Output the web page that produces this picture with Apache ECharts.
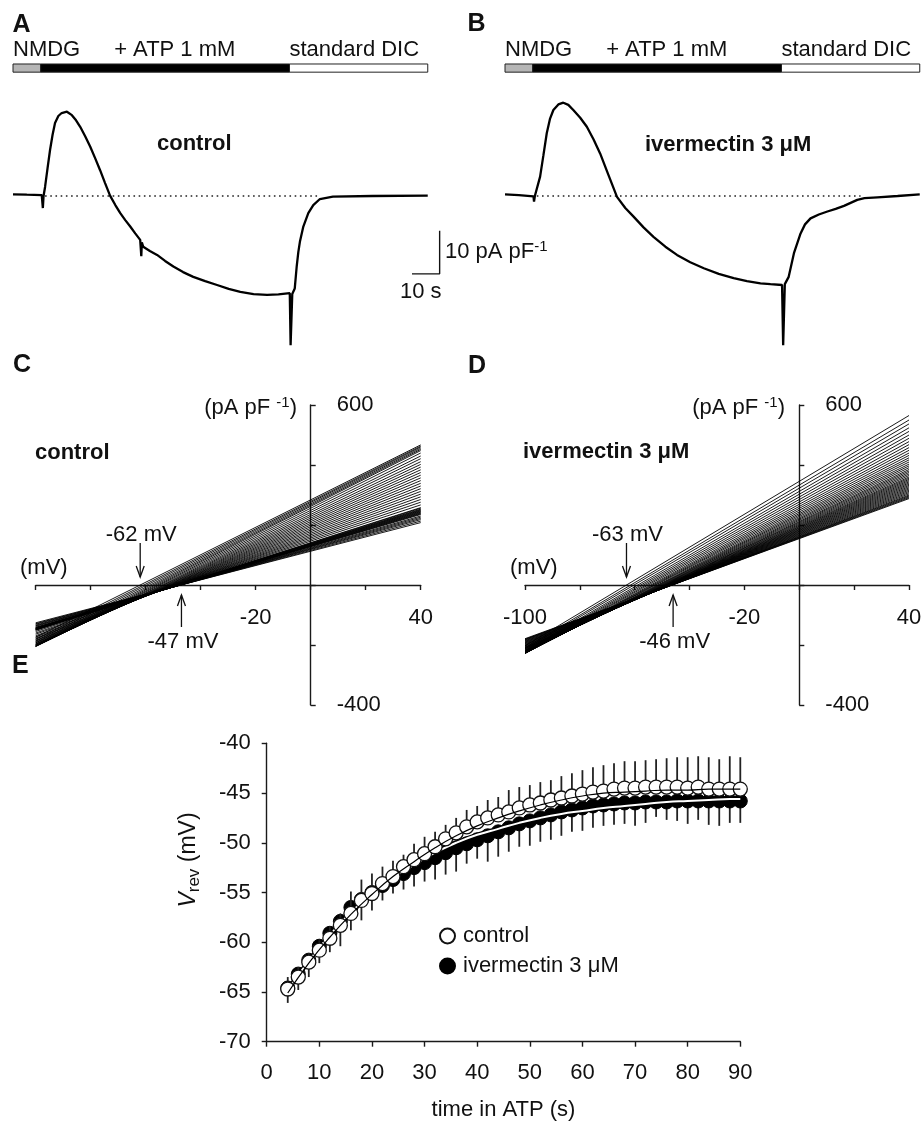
<!DOCTYPE html>
<html><head><meta charset="utf-8">
<script src="https://cdn.jsdelivr.net/npm/echarts@6/dist/echarts.min.js"></script>
<style>html,body{margin:0;padding:0;background:#fff}#c{width:924px;height:1121px}</style>
</head><body><div id="c"></div>
<script>
const FONT = '"Liberation Sans", Arial, Helvetica, sans-serif';

// ---------- Panels A / B : current density (pA/pF) vs time (s) ----------
const traceA = [[0,0.4],[5,0.3],[10.4,0.2],[10.8,-2.8],[11.05,0],[11.6,2.1],[12.5,6.5],[13.4,10.7],[14.3,14.2],[15.2,17.0],[16.4,18.6],[17.6,19.3],[19.5,19.6],[21.3,18.8],[22.8,17.6],[24.3,16.1],[26.1,13.9],[27.9,11.5],[29.7,8.8],[31.5,6.0],[33.3,3.0],[35.1,0.1],[37.0,-2.1],[38.8,-4.0],[40.6,-5.6],[42.4,-7.1],[44.2,-8.7],[46.0,-10.2],[46.3,-10.4],[46.4,-14.0],[46.6,-10.8],[47.1,-11.8],[49.5,-12.8],[52.1,-13.7],[55,-15.1],[58.0,-16.4],[61.5,-17.7],[65.2,-18.8],[69.5,-19.8],[73.8,-20.7],[78,-21.6],[82.2,-22.3],[87,-22.8],[91.9,-23.0],[96,-22.9],[100.1,-22.6],[100.4,-34.7],[100.7,-34.7],[101.0,-22.8],[101.9,-21.5],[102.6,-16.4],[103.2,-13.0],[103.8,-10.5],[105,-7.1],[106.8,-4.0],[108.6,-2.1],[111,-0.7],[115.7,-0.15],[130,0],[150,0.1]];
const traceB = [[0,0.4],[5,0.2],[10.3,-0.1],[10.5,-1.3],[10.8,0],[12.7,4.5],[13.9,9.5],[15.1,14.6],[16.3,18.0],[17.5,20.0],[19.3,21.3],[21.1,21.7],[22.9,21.2],[24.7,20.0],[27.2,18.2],[29.6,16.1],[32.0,13.2],[34.4,9.9],[37.4,4.9],[40.5,-0.2],[43.5,-2.8],[46.5,-4.8],[50.1,-7.3],[53.7,-9.5],[58,-11.8],[62.2,-13.7],[67,-15.4],[71.9,-16.8],[77.3,-18.1],[82.7,-19.1],[87.5,-19.8],[92.4,-20.3],[96,-20.5],[100.2,-20.7],[100.6,-34.7],[100.9,-34.7],[101.2,-20.5],[102.6,-18.8],[104.5,-13.3],[106.9,-8.7],[108.5,-6.6],[110.5,-5.2],[113.5,-4.3],[116.6,-3.6],[119.6,-3.0],[122.6,-2.3],[125,-1.6],[127.4,-0.9],[130,-0.5],[134.7,-0.3],[142,0],[150,0.4]];
const solutionNames = ['NMDG', '+ ATP 1 mM', 'standard DIC'];
const solutionStart = [0, 10, 100];
const solutionEnd = [10, 100, 150];
const zeroLineA = [[11.6, 0], [111, 0]];
const zeroLineB = [[11.5, 0], [128.6, 0]];
const scaleBar = [[144.3, -18.1], [154.3, -18.1], [154.3, -8.1]]; // 10 s, 10 pA/pF

// ---------- Panels C / D : I-V ramps (pA/pF at -100 mV and +40 mV) ----------
const ivVoltage = [-100, 40];
const ivC_atMinus100 = [-174,-181,-187,-193,-198,-202,-204,-204,-205,-204,-203,-202,-200,-198,-196,-193,-190,-187,-184,-180,-177,-173,-169,-164,-160,-155,-151,-150,-149,-148,-147,-146,-146,-145,-144,-143,-142,-141,-138,-136,-134,-131,-129,-126];
const ivC_atPlus40 = [467,463,460,456,452,448,440,430,421,411,402,393,384,375,366,357,348,339,330,321,312,303,294,285,276,267,258,256,253,251,249,247,245,243,241,239,237,235,230,226,222,218,213,208];
const ivD_atMinus100 = [-203,-209,-213,-218,-221,-223,-225,-226,-228,-228,-228,-227,-228,-227,-226,-225,-224,-223,-222,-221,-219,-218,-217,-215,-213,-212,-211,-209,-208,-206,-204,-202,-200,-198,-196,-194,-192,-190,-188,-186,-184,-182,-181,-179];
const ivD_atPlus40 = [565,550,537,524,512,500,489,478,468,458,449,440,432,424,417,410,403,397,391,385,380,375,370,365,360,356,352,348,344,340,336,332,328,324,320,316,312,308,304,300,297,294,291,288];
const ivXLabelsC = [-20, 40];
const ivXLabelsD = [-100, -20, 40];
const ivYLabels = [600, -400];
const vrevArrowsC = [-62, -47];
const vrevArrowsD = [-63, -46];

// ---------- Panel E : Vrev (mV) vs time in ATP (s) ----------
const timeE = [4,6,8,10,12,14,16,18,20,22,24,26,28,30,32,34,36,38,40,42,44,46,48,50,52,54,56,58,60,62,64,66,68,70,72,74,76,78,80,82,84,86,88,90];
const vrevControl = [-64.7,-63.5,-62.0,-60.8,-59.6,-58.3,-57.1,-55.8,-55.1,-54.1,-53.4,-52.4,-51.7,-51.1,-50.4,-49.6,-49.0,-48.4,-47.9,-47.5,-47.2,-46.9,-46.5,-46.2,-46.0,-45.7,-45.5,-45.3,-45.1,-44.9,-44.8,-44.6,-44.5,-44.5,-44.4,-44.4,-44.4,-44.4,-44.5,-44.4,-44.6,-44.6,-44.6,-44.6];
const semControl = [1.2,1.0,0.9,1.0,1.2,1.2,2.2,2.1,2.0,1.7,1.6,1.2,1.6,1.7,1.5,1.4,1.5,1.7,1.6,1.8,1.8,2.2,2.1,2.0,2.1,2.0,2.2,2.3,2.4,2.5,2.6,2.6,2.7,2.7,2.7,2.8,2.9,3.0,3.1,3.1,3.2,3.0,3.3,3.2];
const vrevIver = [-64.6,-63.2,-61.8,-60.4,-59.1,-57.9,-56.5,-55.7,-55.0,-54.3,-53.7,-53.1,-52.5,-52.0,-51.5,-51.0,-50.5,-50.1,-49.7,-49.3,-48.9,-48.5,-48.1,-47.8,-47.5,-47.2,-46.9,-46.7,-46.5,-46.3,-46.2,-46.1,-46.0,-46.0,-45.9,-45.9,-45.9,-45.8,-45.8,-45.8,-45.8,-45.8,-45.8,-45.8];
const semIver = [1.5,1.6,1.7,1.7,1.9,2.5,2.3,2.1,1.8,1.5,1.4,1.6,1.9,1.9,2.2,2.2,2.4,2.0,1.9,2.6,2.5,2.4,2.3,2.5,2.4,2.5,2.4,2.2,2.3,2.2,2.1,2.1,2.1,2.3,2.1,1.5,1.8,2.0,2.3,1.9,2.4,2.5,2.2,2.2];
const fitTime = [4,8,12,16,20,24,28,32,36,40,44,48,52,56,60,64,68,72,76,80,84,88,90];
const fitControl = [-65.1,-62.1,-59.5,-57.2,-55.2,-53.4,-51.9,-50.5,-49.3,-48.3,-47.5,-46.8,-46.2,-45.7,-45.3,-45.0,-44.9,-44.8,-44.7,-44.7,-44.6,-44.6,-44.6];
const fitIver = [-64.8,-61.9,-59.3,-57.0,-55.1,-53.5,-52.2,-51.0,-50.0,-49.2,-48.6,-48.0,-47.5,-47.1,-46.8,-46.5,-46.3,-46.1,-45.9,-45.8,-45.7,-45.6,-45.6];

// ---------- option ----------
const AX = {color: '#1a1a1a', width: 1.4};
const TXT = '#111';
const SOL_FILL = ['#b5b5b5', '#000000', '#ffffff'];
const SOL_ALIGN = ['left', 'center', 'left'];

function solutionRender(params, api) {
  const i = params.dataIndex;
  const s = api.value(0), e = api.value(1);
  const p0 = api.coord([s, 30.7]);
  const p1 = api.coord([e, 28.8]);
  const tx = SOL_ALIGN[i] === 'center' ? api.coord([(s + e) / 2 + 3.5, 0])[0] : p0[0];
  return {type: 'group', children: [
    {type: 'rect', shape: {x: p0[0], y: p0[1], width: p1[0] - p0[0], height: p1[1] - p0[1]},
     style: {fill: SOL_FILL[i], stroke: '#222', lineWidth: 1}},
    {type: 'text', x: tx, y: p0[1] - 14,
     style: {text: solutionNames[i], fill: TXT, fontSize: 22, fontFamily: FONT, align: SOL_ALIGN[i], verticalAlign: 'middle'}}
  ]};
}

function arrowRender(params, api) {
  const v = api.value(0);
  const p = api.coord([v, 0]);
  const x = p[0], y0 = p[1];
  const down = params.dataIndex === 0;
  const st = {stroke: '#111', lineWidth: 1.3, fill: null};
  const children = [];
  if (down) {
    children.push({type: 'line', shape: {x1: x, y1: y0 - 42, x2: x, y2: y0 - 8}, style: st});
    children.push({type: 'polyline', shape: {points: [[x - 4, y0 - 19], [x, y0 - 8], [x + 4, y0 - 19]]}, style: st});
    children.push({type: 'text', x: x + 1, y: y0 - 50.5, style: {text: v + ' mV', fill: TXT, fontSize: 22, fontFamily: FONT, align: 'center', verticalAlign: 'middle'}});
  } else {
    children.push({type: 'line', shape: {x1: x, y1: y0 + 42, x2: x, y2: y0 + 10}, style: st});
    children.push({type: 'polyline', shape: {points: [[x - 4, y0 + 21], [x, y0 + 10], [x + 4, y0 + 21]]}, style: st});
    children.push({type: 'text', x: x + 1.5, y: y0 + 57, style: {text: v + ' mV', fill: TXT, fontSize: 22, fontFamily: FONT, align: 'center', verticalAlign: 'middle'}});
  }
  return {type: 'group', children};
}

function errRender(dir) {
  return function (params, api) {
    const t = api.value(0), v = api.value(1), s = api.value(2);
    const a = api.coord([t, v]);
    const b = api.coord([t, v + dir * s]);
    return {type: 'line', shape: {x1: a[0], y1: a[1], x2: b[0], y2: b[1]}, style: {stroke: '#222', lineWidth: 1.8}};
  };
}

// axes of C/D cross at (0 mV, 0 pA/pF); offsets move the axes from the grid edge to the origin
const ivAxisX = (gi, shown) => ({
  gridIndex: gi, type: 'value', min: -100, max: 40, interval: 20, position: 'bottom', offset: -120,
  axisLine: {onZero: false, lineStyle: AX},
  axisTick: {length: 5, lineStyle: AX},
  axisLabel: {fontSize: 22, color: TXT, fontFamily: FONT, margin: 22, showMinLabel: true, showMaxLabel: true,
              formatter: v => shown.includes(v) ? String(v) : ''},
  splitLine: {show: false}
});
const ivAxisY = (gi, off) => ({
  gridIndex: gi, type: 'value', min: -400, max: 600, interval: 200, position: 'left', offset: off,
  axisLine: {onZero: false, lineStyle: AX},
  axisTick: {inside: true, length: 5, lineStyle: AX},
  axisLabel: {inside: true, margin: 26, fontSize: 22, color: TXT, fontFamily: FONT, showMinLabel: true, showMaxLabel: true,
              formatter: v => ivYLabels.includes(v) ? String(v) : ''},
  splitLine: {show: false}
});

const series = [];
// A
series.push({type: 'custom', xAxisIndex: 0, yAxisIndex: 0, renderItem: solutionRender,
  data: solutionStart.map((s, i) => [s, solutionEnd[i]]), silent: true, z: 3});
series.push({type: 'line', xAxisIndex: 0, yAxisIndex: 0, data: zeroLineA, symbol: 'none',
  lineStyle: {color: '#222', width: 1.6, type: [1.6, 3.6]}, silent: true, z: 2});
series.push({type: 'line', xAxisIndex: 0, yAxisIndex: 0, data: traceA, symbol: 'none',
  lineStyle: {color: '#000', width: 2.3}, silent: true, z: 3});
series.push({type: 'line', xAxisIndex: 0, yAxisIndex: 0, data: scaleBar, symbol: 'none',
  lineStyle: {color: '#111', width: 1.4}, silent: true, z: 3});
// B
series.push({type: 'custom', xAxisIndex: 1, yAxisIndex: 1, renderItem: solutionRender,
  data: solutionStart.map((s, i) => [s, solutionEnd[i]]), silent: true, z: 3});
series.push({type: 'line', xAxisIndex: 1, yAxisIndex: 1, data: zeroLineB, symbol: 'none',
  lineStyle: {color: '#222', width: 1.6, type: [1.6, 3.6]}, silent: true, z: 2});
series.push({type: 'line', xAxisIndex: 1, yAxisIndex: 1, data: traceB, symbol: 'none',
  lineStyle: {color: '#000', width: 2.3}, silent: true, z: 3});
// C / D
ivC_atMinus100.forEach((a, i) => series.push({type: 'line', xAxisIndex: 2, yAxisIndex: 2,
  data: [[ivVoltage[0], a], [ivVoltage[1], ivC_atPlus40[i]]], symbol: 'none',
  lineStyle: {color: '#000', width: 0.9}, silent: true, z: 2}));
ivD_atMinus100.forEach((a, i) => series.push({type: 'line', xAxisIndex: 3, yAxisIndex: 3,
  data: [[ivVoltage[0], a], [ivVoltage[1], ivD_atPlus40[i]]], symbol: 'none',
  lineStyle: {color: '#000', width: 0.9}, silent: true, z: 2}));
series.push({type: 'custom', xAxisIndex: 2, yAxisIndex: 2, renderItem: arrowRender, data: vrevArrowsC.map(v => [v]), silent: true, z: 4});
series.push({type: 'custom', xAxisIndex: 3, yAxisIndex: 3, renderItem: arrowRender, data: vrevArrowsD.map(v => [v]), silent: true, z: 4});
// E
series.push({type: 'custom', name: 'iverErr', xAxisIndex: 4, yAxisIndex: 4, renderItem: errRender(-1),
  data: timeE.map((t, i) => [t, vrevIver[i], semIver[i]]), silent: true, z: 2});
series.push({type: 'scatter', name: 'ivermectin 3 μM', xAxisIndex: 4, yAxisIndex: 4,
  data: timeE.map((t, i) => [t, vrevIver[i]]), symbol: 'circle', symbolSize: 14,
  itemStyle: {color: '#000', borderColor: '#000', borderWidth: 1, opacity: 1}, silent: true, z: 3});
series.push({type: 'line', name: 'iverFitEdge', xAxisIndex: 4, yAxisIndex: 4, smooth: true,
  data: fitTime.map((t, i) => [t, fitIver[i]]), symbol: 'none', lineStyle: {color: '#000', width: 4.4}, silent: true, z: 4});
series.push({type: 'line', name: 'iverFit', xAxisIndex: 4, yAxisIndex: 4, smooth: true,
  data: fitTime.map((t, i) => [t, fitIver[i]]), symbol: 'none', lineStyle: {color: '#fff', width: 2}, silent: true, z: 5});
series.push({type: 'custom', name: 'ctrlErr', xAxisIndex: 4, yAxisIndex: 4, renderItem: errRender(1),
  data: timeE.map((t, i) => [t, vrevControl[i], semControl[i]]), silent: true, z: 6});
series.push({type: 'scatter', name: 'control', xAxisIndex: 4, yAxisIndex: 4,
  data: timeE.map((t, i) => [t, vrevControl[i]]), symbol: 'circle', symbolSize: 14,
  itemStyle: {color: '#fff', borderColor: '#111', borderWidth: 1.3, opacity: 1}, silent: true, z: 7});
series.push({type: 'line', name: 'ctrlFit', xAxisIndex: 4, yAxisIndex: 4, smooth: true,
  data: fitTime.map((t, i) => [t, fitControl[i]]), symbol: 'none', lineStyle: {color: '#000', width: 1.2}, silent: true, z: 8});

const txt = (x, y, text, extra) => Object.assign({type: 'text', x, y, silent: true,
  style: Object.assign({text, fill: TXT, fontSize: 22, fontFamily: FONT, align: 'left', verticalAlign: 'middle'}, extra || {})});
const bold = (x, y, text, size) => txt(x, y, text, {fontWeight: 'bold', fontSize: size || 22});
const supRich = {a: {fontSize: 22, fontFamily: FONT, fill: TXT, lineHeight: 26, verticalAlign: 'middle'},
                 s: {fontSize: 15, fontFamily: FONT, fill: TXT, lineHeight: 14, verticalAlign: 'top'}};

const G = {outerBoundsMode: 'none', containLabel: false};
const option = {
  animation: false,
  backgroundColor: '#fff',
  textStyle: {fontFamily: FONT},
  grid: [
    Object.assign({left: 13, top: 58.4, width: 442.4, height: 292.4}, G),
    Object.assign({left: 505, top: 58.4, width: 414.75, height: 292.4}, G),
    Object.assign({left: 35.7, top: 405, width: 385, height: 300}, G),
    Object.assign({left: 525, top: 405, width: 384, height: 300}, G),
    Object.assign({left: 266.7, top: 743.3, width: 473.6, height: 298.4}, G)
  ],
  xAxis: [
    {gridIndex: 0, type: 'value', min: 0, max: 160, show: false},
    {gridIndex: 1, type: 'value', min: 0, max: 150, show: false},
    ivAxisX(2, ivXLabelsC),
    ivAxisX(3, ivXLabelsD),
    {gridIndex: 4, type: 'value', min: 0, max: 90, interval: 10,
     axisLine: {onZero: false, lineStyle: AX}, axisTick: {length: 5, lineStyle: AX},
     axisLabel: {fontSize: 22, color: TXT, fontFamily: FONT, margin: 20},
     splitLine: {show: false},
     name: 'time in ATP (s)', nameLocation: 'middle', nameGap: 57,
     nameTextStyle: {fontSize: 22, color: TXT, fontFamily: FONT}}
  ],
  yAxis: [
    {gridIndex: 0, type: 'value', min: -36, max: 32, show: false},
    {gridIndex: 1, type: 'value', min: -36, max: 32, show: false},
    ivAxisY(2, -275),
    ivAxisY(3, -274.3),
    {gridIndex: 4, type: 'value', min: -70, max: -40, interval: 5,
     axisLine: {onZero: false, lineStyle: AX}, axisTick: {length: 5, lineStyle: AX},
     axisLabel: {fontSize: 22, color: TXT, fontFamily: FONT, margin: 16},
     splitLine: {show: false}}
  ],
  legend: {
    data: ['control', 'ivermectin 3 μM'], orient: 'vertical', left: 434, top: 920,
    itemWidth: 21, itemHeight: 15, itemGap: 8, selectedMode: false,
    textStyle: {fontSize: 22, color: TXT, fontFamily: FONT}
  },
  graphic: [
    bold(12.5, 25.5, 'A', 25), bold(467.5, 24.5, 'B', 25),
    bold(13, 365, 'C', 25), bold(468, 366, 'D', 25), bold(12, 666, 'E', 25),
    bold(157, 144, 'control'), bold(645, 145, 'ivermectin 3 μM'),
    bold(35, 452.5, 'control'), bold(523, 452, 'ivermectin 3 μM'),
    txt(297, 408, '{a|(pA pF }{s|-1}{a|)}', {align: 'right', rich: supRich}),
    txt(785, 408, '{a|(pA pF }{s|-1}{a|)}', {align: 'right', rich: supRich}),
    txt(20, 568, '(mV)'), txt(510, 568, '(mV)'),
    txt(445, 252, '{a|10 pA pF}{s|-1}', {rich: supRich}),
    txt(400, 291.5, '10 s'),
    {type: 'text', x: 189, y: 860, rotation: Math.PI / 2, silent: true,
     style: {text: '{i|V}{s|rev}{a| (mV)}', fill: TXT, fontSize: 23, fontFamily: FONT, align: 'center', verticalAlign: 'middle',
       rich: {i: {fontSize: 23, fontStyle: 'italic', fontFamily: FONT, fill: TXT, lineHeight: 28, verticalAlign: 'middle'},
              s: {fontSize: 17, fontFamily: FONT, fill: TXT, lineHeight: 16, verticalAlign: 'bottom'},
              a: {fontSize: 23, fontFamily: FONT, fill: TXT, lineHeight: 28, verticalAlign: 'middle'}}}}
  ],
  series
};

const chart = echarts.init(document.getElementById('c'), null, {renderer: 'canvas', width: 924, height: 1121});
chart.setOption(option);
</script>
</body></html>
